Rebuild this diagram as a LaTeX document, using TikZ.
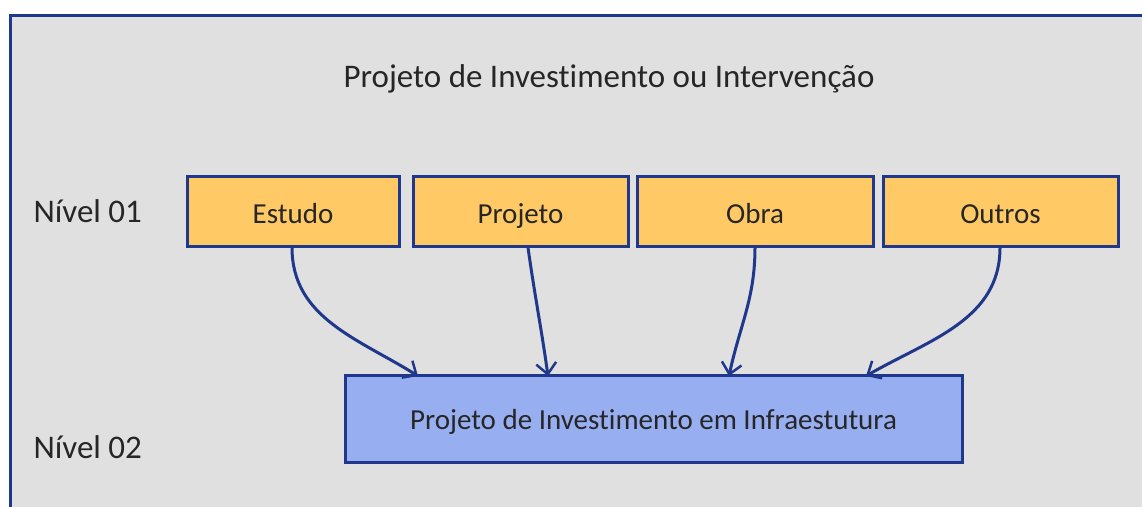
\documentclass[tikz,border=0pt]{standalone}
\usepackage{fontspec}
\setmainfont{Carlito}[Ligatures=NoCommon]
\usetikzlibrary{arrows.meta, positioning}
\definecolor{framecolor}{RGB}{32,56,140}
\definecolor{bgcolor}{RGB}{224,224,224}
\definecolor{levelcolor}{RGB}{255,202,102}
\definecolor{infracolor}{RGB}{151,174,240}
\definecolor{textcolor}{RGB}{38,38,38}

\begin{document}
\begin{tikzpicture}[
    x=1pt, y=-1pt,
    every node/.style={font=\fontsize{29}{33}\selectfont, text=textcolor},
    bigtext/.style={font=\fontsize{33}{38}\selectfont, anchor=base west},
    levelbox/.style={draw=framecolor, line width=3pt, fill=levelcolor,
        minimum height=70pt, inner sep=0pt, text height=24pt, text depth=0pt},
    infrabox/.style={draw=framecolor, line width=3pt, fill=infracolor,
        minimum width=617pt, minimum height=87pt, inner sep=0pt,
        text height=21pt, text depth=0pt},
    link/.style={draw=framecolor, line width=3pt,
        -{Straight Barb[length=11pt, width=20pt, line width=2.5pt]}},
]
    % Page and frame
    \useasboundingbox (0,0) rectangle (1142,506);
    \clip (0,0) rectangle (1142,506);
    \draw[framecolor, line width=3pt, fill=bgcolor] (10.5,15.5) rectangle (1160,530);

    % Title
    \node[bigtext, anchor=base] (title) at (609,87) {Projeto de Investimento ou Interven\c{c}\~ao};

    % Level labels
    \node[bigtext] (nivel1) at (30,222) {N\'ivel 01};
    \node[bigtext] (nivel2) at (30,458) {N\'ivel 02};

    % Level 01 boxes
    \node[levelbox, minimum width=212pt] (estudo)  at (293,211)   {Estudo};
    \node[levelbox, minimum width=215pt] (projeto) at (520.5,211) {Projeto};
    \node[levelbox, minimum width=236pt] (obra)    at (755,211)   {Obra};
    \node[levelbox, minimum width=235pt] (outros)  at (1000.5,211) {Outros};

    % Level 02 box
    \node[infrabox] (infra) at (653.5,418.5) {Projeto de Investimento em Infraestutura};

    % Links
    \coordinate (in1) at (418,376);
    \coordinate (in2) at (548,376);
    \coordinate (in3) at (729,376);
    \coordinate (in4) at (866,376);
    \draw[link] (estudo.south -| 292,0) to[out=-90, in=148] (in1);
    \draw[link] (projeto.south -| 528,0) to[out=-82, in=98] (in2);
    \draw[link] (obra.south -| 755,0) to[out=-90, in=78] (in3);
    \draw[link] (outros.south -| 1000,0) to[out=-90, in=30] (in4);
\end{tikzpicture}
\end{document}
